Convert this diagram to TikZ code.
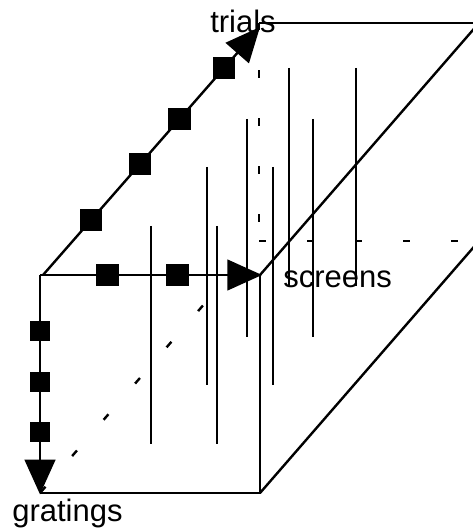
\documentclass[tikz,border=0pt]{standalone}
\usepackage{fontspec}
\setmainfont{Liberation Sans}
\usetikzlibrary{arrows.meta}
\begin{document}
\begin{tikzpicture}[x=0.75pt,y=-0.75pt,
  boxedge/.style={line width=1.8pt},
  hiddenedge/.style={line width=1.8pt, dash pattern=on 5.5pt off 30.5pt},
  axisarrow/.style={line width=1.8pt, -{Triangle[length=26pt,width=23pt]}},
  sqtick/.style={fill=black, draw=none, inner sep=0pt, minimum size=17pt},
  smallsqtick/.style={sqtick, minimum size=15pt},
  screenline/.style={line width=1.8pt},
  axislabel/.style={inner sep=0pt, anchor=base west, font=\fontsize{23.25pt}{28pt}\selectfont}]

\useasboundingbox (0,0) rectangle (473,530);
\clip (0,0) rectangle (473,530);

% corners of the box: front face and back face
\coordinate (fTL) at (40,275);
\coordinate (fTR) at (260,275);
\coordinate (fBR) at (260,493);
\coordinate (fBL) at (40,493);
\coordinate (bTL) at (259,23);
\coordinate (bTR) at (479,23);
\coordinate (bBR) at (479,241);
\coordinate (bBL) at (259,241);

% hidden edges
\draw[hiddenedge, dash phase=21.4pt] (bBL) -- (bTL);
\draw[hiddenedge] (bBL) -- (bBR);
\draw[hiddenedge, dash phase=35.25pt] (fBL) -- (bBL);

% visible edges
\draw[boxedge] (bTL) -- (bTR);
\draw[boxedge] (fTR) -- (bTR);
\draw[boxedge] (fBR) -- (bBR);
\draw[boxedge] (fTR) -- (fBR) -- (fBL);

% screens, one pair of lines per trial
\foreach \xa/\xb/\yt in {151/217/226, 207/273/167, 247/313/119, 289/356/68} {
  \draw[screenline] (\xa,\yt) -- (\xa,\yt+218);
  \draw[screenline] (\xb,\yt) -- (\xb,\yt+218);
}

% axes with their tick squares
\coordinate (tStart) at (43,275);
\coordinate (tEnd) at (260,27);
\draw[axisarrow] (tStart) -- (tEnd)
  node[sqtick, pos=0.2218] (t1) {}
  node[sqtick, pos=0.4476] (t2) {}
  node[sqtick, pos=0.629] (t3) {}
  node[sqtick, pos=0.8347] (t4) {};

\draw[axisarrow] (fTL) -- ([xshift=1.5pt]fTR)
  node[sqtick, pos=0.3045] (s1) {}
  node[sqtick, pos=0.618] (s2) {};

\draw[axisarrow] (fTL) -- ([yshift=-1pt]fBL)
  node[smallsqtick, pos=0.2569] (g1) {}
  node[smallsqtick, pos=0.4862] (g2) {}
  node[smallsqtick, pos=0.7156] (g3) {};

% axis names
\node[axislabel] (trials) at (210,33) {trials};
\node[axislabel] (screens) at (283,287) {screens};
\node[axislabel] (gratings) at (12,521) {gratings};
\end{tikzpicture}
\end{document}
